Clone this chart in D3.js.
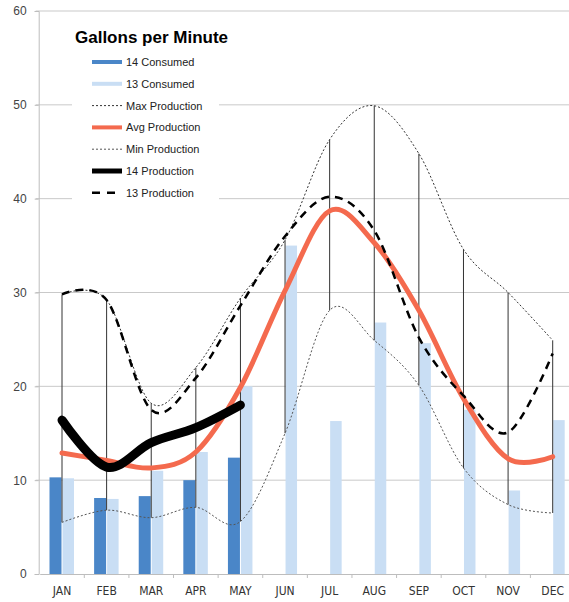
<!DOCTYPE html>
<html>
<head>
<meta charset="utf-8">
<script src="https://cdn.jsdelivr.net/npm/d3@7"></script>
<style>
  body { margin: 0; background: #fff; }
  svg { display: block; }
  .grid line { stroke: #c9c9c9; stroke-width: 1; }
  .ylab { font-family: "Liberation Sans", Arial, sans-serif; font-size: 12px; fill: #444; }
  .xlab { font-family: "Liberation Sans Narrow", "DejaVu Sans Condensed", "Liberation Sans", sans-serif; font-size: 12px; fill: #333; }
  .legend text { font-family: "Liberation Sans", Arial, sans-serif; font-size: 11px; fill: #222; }
</style>
</head>
<body>
<div id="chart"></div>
<script>
var months = ['JAN', 'FEB', 'MAR', 'APR', 'MAY', 'JUN', 'JUL', 'AUG', 'SEP', 'OCT', 'NOV', 'DEC'];
var yTicks = [0, 10, 20, 30, 40, 50, 60];

var consumed14 = [10.3, 8.1, 8.3, 10.0, 12.4];
var consumed13 = [10.2, 8.0, 11.0, 13.0, 20.0, 35.0, 16.3, 26.8, 24.6, 17.5, 8.9, 16.4];
var maxProd = [29.8, 29.2, 18.2, 22.0, 29.4, 35.6, 46.3, 49.9, 44.8, 34.6, 30.0, 24.9];
var avgProd = [12.9, 12.1, 11.3, 13.0, 19.9, 30.2, 38.7, 35.3, 28.1, 18.7, 12.3, 12.5];
var minProd = [5.5, 6.8, 6.0, 7.1, 5.6, 15.0, 28.1, 24.9, 20.1, 11.3, 7.4, 6.5];
var prod14 = [16.4, 11.4, 14.0, 15.6, 18.0];
var prod13 = [29.8, 29.2, 17.5, 20.9, 28.6, 36.0, 40.2, 36.6, 25.2, 19.0, 15.1, 23.5];

var legendItems = [
  { name: '14 Consumed', color: '#4a86c8', width: 4, dash: null },
  { name: '13 Consumed', color: '#c9def4', width: 4, dash: null },
  { name: 'Max Production', color: '#333', width: 1, dash: '2,2' },
  { name: 'Avg Production', color: '#f46a4e', width: 4, dash: null },
  { name: 'Min Production', color: '#555', width: 1, dash: '2,2' },
  { name: '14 Production', color: '#000', width: 5, dash: null },
  { name: '13 Production', color: '#000', width: 2.5, dash: '8,7' }
];

var W = 569, H = 602;
var plotTop = 11, plotBottom = 574, plotLeft = 39.7, plotRight = 575;

var svg = d3.select('#chart').append('svg').attr('width', W).attr('height', H);

var x = d3.scaleBand().domain(months).range([plotLeft, plotRight]).padding(0);
var y = d3.scaleLinear().domain([0, 60]).range([plotBottom, plotTop]);
var cx = function(i) { return x(months[i]) + x.bandwidth() / 2; };

// gridlines
svg.append('g').attr('class', 'grid').selectAll('line')
  .data(yTicks.filter(function(t) { return t > 0; }))
  .enter().append('line')
  .attr('x1', plotLeft - 4).attr('x2', W)
  .attr('y1', function(d) { return y(d); }).attr('y2', function(d) { return y(d); });

// y axis
var yAxis = d3.axisLeft(y).tickValues(yTicks).tickSize(4).tickPadding(8);
var ya = svg.append('g').attr('transform', 'translate(' + (plotLeft - 1) + ',0)').call(yAxis);
ya.selectAll('path, line').attr('stroke', '#bdbdbd');
ya.selectAll('text').attr('class', 'ylab').attr('fill', null).attr('font-family', null).attr('font-size', null);

// x axis
var xAxis = d3.axisBottom(x).tickSize(0).tickPadding(12);
var xa = svg.append('g').attr('transform', 'translate(0,' + plotBottom + ')').call(xAxis);
xa.select('.domain').attr('stroke', '#bdbdbd');
xa.selectAll('text').attr('class', 'xlab').attr('fill', null).attr('font-family', null).attr('font-size', null);
xa.selectAll('.sep').data(months.slice(1)).enter().append('line')
  .attr('x1', function(d) { return x(d); }).attr('x2', function(d) { return x(d); })
  .attr('y1', 0).attr('y2', 4).attr('stroke', '#bdbdbd');

// bars
svg.append('g').selectAll('rect').data(consumed13).enter().append('rect')
  .attr('x', function(d, i) { return cx(i) + 0.5; })
  .attr('width', 11.5)
  .attr('y', function(d) { return y(d); })
  .attr('height', function(d) { return plotBottom - y(d); })
  .attr('fill', '#c9def4');
svg.append('g').selectAll('rect').data(consumed14).enter().append('rect')
  .attr('x', function(d, i) { return cx(i) - 12.5; })
  .attr('width', 12)
  .attr('y', function(d) { return y(d); })
  .attr('height', function(d) { return plotBottom - y(d); })
  .attr('fill', '#4a86c8');

// high-low lines
svg.append('g').selectAll('line').data(months).enter().append('line')
  .attr('x1', function(d, i) { return cx(i); }).attr('x2', function(d, i) { return cx(i); })
  .attr('y1', function(d, i) { return y(minProd[i]); })
  .attr('y2', function(d, i) { return y(maxProd[i]); })
  .attr('stroke', '#333').attr('stroke-width', 1);

var line = d3.line()
  .x(function(d, i) { return cx(i); })
  .y(function(d) { return y(d); })
  .curve(d3.curveCardinal.tension(0));

function drawLine(data, color, width, dash) {
  svg.append('path').datum(data)
    .attr('d', line)
    .attr('fill', 'none')
    .attr('stroke', color)
    .attr('stroke-width', width)
    .attr('stroke-dasharray', dash)
    .attr('stroke-linecap', dash ? 'butt' : 'round');
}

drawLine(maxProd, '#333', 1, '2,2');
drawLine(minProd, '#555', 1, '2,2');
drawLine(avgProd, '#f46a4e', 5, null);
drawLine(prod13, '#000', 2.5, '8,6');
drawLine(prod14, '#000', 9, null);

// legend
var lg = svg.append('g').attr('class', 'legend');
lg.append('rect').attr('x', 72).attr('y', 48).attr('width', 147).attr('height', 160).attr('fill', '#fff');
svg.append('text')
  .attr('x', 75).attr('y', 43)
  .attr('font-family', '"Liberation Sans", Arial, sans-serif')
  .attr('font-size', 17).attr('font-weight', 'bold').attr('fill', '#000')
  .text('Gallons per Minute');

var row = lg.selectAll('.row').data(legendItems).enter().append('g')
  .attr('transform', function(d, i) { return 'translate(0,' + (62 + i * 21.8) + ')'; });
row.append('line')
  .attr('x1', 92).attr('x2', 122).attr('y1', 0).attr('y2', 0)
  .attr('stroke', function(d) { return d.color; })
  .attr('stroke-width', function(d) { return d.width; })
  .attr('stroke-dasharray', function(d) { return d.dash; });
row.append('text').attr('x', 126).attr('y', 4).text(function(d) { return d.name; });
</script>
</body>
</html>
